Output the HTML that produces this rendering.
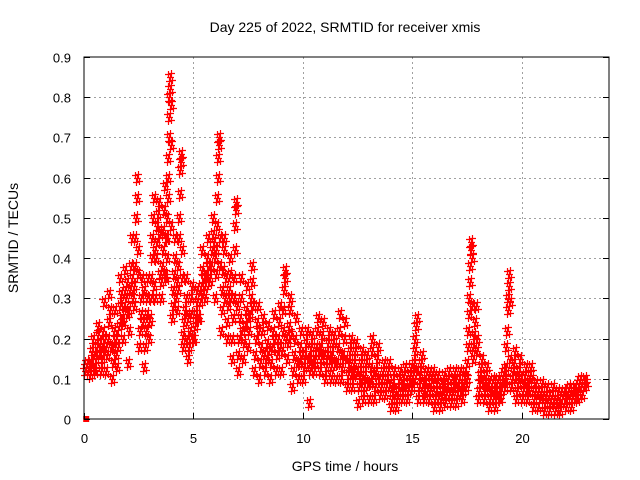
<!DOCTYPE html>
<html><head><meta charset="utf-8"><style>
html,body{margin:0;padding:0;background:#fff;}
svg{display:block;font-family:"Liberation Sans",Arial,sans-serif;}
</style></head><body>
<svg id="chart" width="640" height="480" viewBox="0 0 640 480" xmlns="http://www.w3.org/2000/svg">
<rect x="0" y="0" width="640" height="480" fill="#fff"/>
<g id="grid"></g>
<g id="points"></g>
<rect x="84" y="57" width="525" height="362" fill="none" stroke="#000" stroke-width="1"/>
<g id="ticks"></g>
<text x="345" y="32" font-size="14" text-anchor="middle">Day 225 of 2022, SRMTID for receiver xmis</text>
<text x="345" y="471" font-size="14" text-anchor="middle">GPS time / hours</text>
<text x="18" y="238" font-size="14" text-anchor="middle" transform="rotate(-90 18 238)">SRMTID / TECUs</text>
</svg>
<script>
const xTicks = [0, 5, 10, 15, 20];
const yTicks = [0, 0.1, 0.2, 0.3, 0.4, 0.5, 0.6, 0.7, 0.8, 0.9];
const yTickLabels = ["0", "0.1", "0.2", "0.3", "0.4", "0.5", "0.6", "0.7", "0.8", "0.9"];
const binWidth = 0.25;
const binStart = [0,0.25,0.5,0.75,1,1.25,1.5,1.75,2,2.25,2.5,2.75,3,3.25,3.5,3.75,4,4.25,4.5,4.75,5,5.25,5.5,5.75,6,6.25,6.5,6.75,7,7.25,7.5,7.75,8,8.25,8.5,8.75,9,9.25,9.5,9.75,10,10.25,10.5,10.75,11,11.25,11.5,11.75,12,12.25,12.5,12.75,13,13.25,13.5,13.75,14,14.25,14.5,14.75,15,15.25,15.5,15.75,16,16.25,16.5,16.75,17,17.25,17.5,17.75,18,18.25,18.5,18.75,19,19.25,19.5,19.75,20,20.25,20.5,20.75,21,21.25,21.5,21.75,22,22.25,22.5,22.75];
const binValues = [
[.12,.13,.14,.12,.13],[.11,.14,.17,.2,.13,.16],[.12,.15,.18,.21,.23,.16,.19],[.12,.15,.18,.22,.29,.2,.17],
[.12,.16,.2,.24,.31,.27,.18],[.1,.14,.18,.22,.27,.2,.16],[.13,.18,.23,.28,.35,.31,.25],[.2,.24,.28,.32,.37,.3,.26,.34],
[.14,.22,.27,.32,.38,.45,.35,.3],[.28,.33,.38,.45,.5,.55,.6,.42,.36],[.18,.22,.26,.3,.35,.24,.32],[.13,.18,.22,.26,.3,.35,.2,.24],
[.25,.3,.35,.4,.45,.5,.55,.33,.42],[.3,.4,.44,.48,.51,.54,.46,.36],[.3,.34,.38,.42,.47,.52,.58,.36,.45],[.35,.4,.45,.5,.55,.6,.65,.7,.75,.8,.85,.82,.78,.68,.48],
[.25,.28,.32,.36,.4,.45,.3,.34],[.27,.32,.38,.45,.5,.56,.62,.66,.64,.42,.35],[.18,.21,.24,.27,.3,.35,.2,.25],[.15,.18,.22,.26,.3,.33,.2],
[.2,.23,.26,.29,.32,.25],[.25,.29,.33,.37,.42,.31,.35],[.3,.33,.36,.4,.45,.38,.34],[.35,.38,.42,.46,.5,.44,.4],
[.3,.36,.42,.48,.55,.6,.65,.7,.68,.45,.38],[.22,.27,.32,.37,.42,.45,.3,.35],[.2,.24,.28,.32,.36,.4,.3],[.15,.2,.25,.3,.35,.42,.48,.54,.52,.28],
[.12,.16,.2,.25,.3,.35,.22],[.15,.19,.23,.27,.33,.25],[.18,.22,.26,.3,.34,.38,.28],[.12,.16,.2,.24,.28,.22],
[.1,.14,.18,.22,.25,.16],[.12,.15,.19,.23,.17],[.1,.14,.18,.22,.26,.2],[.12,.16,.2,.24,.28,.18],
[.12,.17,.22,.27,.32,.37,.35,.2],[.15,.19,.23,.27,.3,.21],[.08,.12,.16,.2,.25,.14],[.1,.14,.18,.22,.16],
[.1,.13,.16,.19,.22,.15],[.04,.12,.15,.18,.21,.14],[.12,.15,.18,.22,.25,.17],[.12,.15,.18,.21,.24,.16],
[.1,.13,.16,.19,.22,.15],[.1,.13,.16,.19,.21,.14],[.1,.14,.18,.22,.26,.16],[.1,.13,.16,.2,.24,.15],
[.08,.11,.14,.17,.2,.12],[.08,.11,.14,.17,.19,.12],[.04,.08,.11,.14,.17,.1],[.05,.08,.11,.14,.16,.09],
[.05,.09,.13,.17,.2,.11],[.05,.08,.12,.15,.18,.1],[.06,.08,.1,.12,.14],[.06,.08,.1,.12,.14,.09],
[.03,.05,.07,.09,.12,.06],[.03,.05,.07,.1,.12,.08],[.05,.07,.09,.11,.13,.08],[.05,.07,.09,.11,.13,.1],
[.08,.11,.14,.17,.2,.23,.25,.12],[.05,.08,.11,.14,.16,.09],[.05,.07,.09,.11,.12,.08],[.05,.07,.09,.11,.12,.1],
[.03,.05,.07,.09,.11,.06],[.03,.05,.07,.09,.11,.08],[.04,.06,.08,.1,.12,.07],[.04,.06,.08,.1,.12,.09],
[.04,.06,.08,.1,.12,.07],[.05,.07,.09,.11,.12,.08],[.1,.14,.18,.22,.26,.3,.34,.38,.42,.44,.4,.28],[.15,.18,.21,.24,.28,.2,.17],
[.05,.07,.09,.11,.13,.15,.1],[.05,.07,.09,.11,.13,.08],[.03,.05,.07,.09,.1,.06],[.03,.05,.07,.09,.1,.06],
[.05,.07,.09,.11,.12,.08],[.1,.13,.18,.22,.27,.3,.33,.36,.29,.15],[.08,.1,.12,.14,.17,.11],[.05,.07,.09,.12,.15,.1],
[.05,.07,.09,.11,.13,.08],[.05,.07,.09,.11,.13,.1],[.03,.05,.07,.09,.06],[.03,.05,.07,.09,.06],
[.02,.04,.06,.08,.05],[.02,.04,.06,.08,.05],[.02,.03,.05,.07,.04],[.02,.04,.06,.07,.05],
[.03,.05,.07,.08,.06],[.03,.05,.07,.08,.06],[.05,.07,.09,.1,.08],[.06,.08,.1,.09]
];
const markerPoint = [0.1, 0];

const NS = "http://www.w3.org/2000/svg";
const X0 = 84, X1 = 609, Y0 = 419, Y1 = 57;
const xMin = 0, xMax = 24, yMin = 0, yMax = 0.9;
function xs(v){ return X0 + (v - xMin) / (xMax - xMin) * (X1 - X0); }
function ys(v){ return Y0 - (v - yMin) / (yMax - yMin) * (Y0 - Y1); }
function mk(tag, attrs){ const e = document.createElementNS(NS, tag); for (const k in attrs) e.setAttribute(k, attrs[k]); return e; }

const grid = document.getElementById('grid');
const ticks = document.getElementById('ticks');
yTicks.forEach((t, i) => {
  const y = Math.round(ys(t)) + 0.5;
  if (t > yMin && t < yMax) {
    const g = mk('line', {x1: X0, x2: X1, y1: y, y2: y, stroke: '#a0a0a0', 'stroke-dasharray': '2,3', 'stroke-width': 1});
    
    
    grid.appendChild(g);
  }
  const tk = mk('line', {x1: X0, x2: X0 + 6, y1: y, y2: y, stroke: '#000'});
  
  
  ticks.appendChild(tk);
  const tk2 = mk('line', {x1: X1 - 6, x2: X1, y1: y, y2: y, stroke: '#000'});
  
  
  ticks.appendChild(tk2);
  const lb = mk('text', {x: 71, y: y + 5, 'font-size': 13, 'text-anchor': 'end'});
  lb.textContent = yTickLabels[i];
  
  
  ticks.appendChild(lb);
});
xTicks.forEach(t => {
  const x = Math.round(xs(t)) + 0.5;
  if (t > xMin) {
    const g = mk('line', {x1: x, x2: x, y1: Y0, y2: Y1, stroke: '#a0a0a0', 'stroke-dasharray': '2,3', 'stroke-width': 1});
    
    
    grid.appendChild(g);
  }
  const tk = mk('line', {x1: x, x2: x, y1: Y0, y2: Y0 - 6, stroke: '#000'});
  
  
  ticks.appendChild(tk);
  const lb = mk('text', {x: x, y: 443, 'font-size': 13, 'text-anchor': 'middle'});
  lb.textContent = String(t);
  
  
  ticks.appendChild(lb);
});

// marker cluster offsets (pixel layout, used to thicken the point cloud)
const cluster = [[0,0],[-2,-3],[2,3],[-1,4],[1,-4]];
const pts = document.getElementById('points');
let d = '';
binStart.forEach((b, bi) => {
  const vals = binValues[bi];
  vals.forEach((v, i) => {
    const h = b + (i + 0.5) / vals.length * binWidth;
    const cx = Math.round(xs(h)), cy = Math.round(ys(v));
    cluster.forEach(o => {
      const x = cx + o[0] + 0.5, y = Math.min(cy + o[1], Y0 - 2) + 0.5;
      d += `M${x-3.5} ${y}h7M${x} ${y-3.5}v7`;
    });
  });
});
const path = mk('path', {d: d, stroke: '#ff0000', 'stroke-width': 1.2, fill: 'none'});


pts.appendChild(path);
const sq = mk('rect', {x: xs(markerPoint[0]) - 3, y: ys(markerPoint[1]) - 3, width: 6, height: 6, fill: '#ff0000'});


pts.appendChild(sq);
</script>
</body></html>
